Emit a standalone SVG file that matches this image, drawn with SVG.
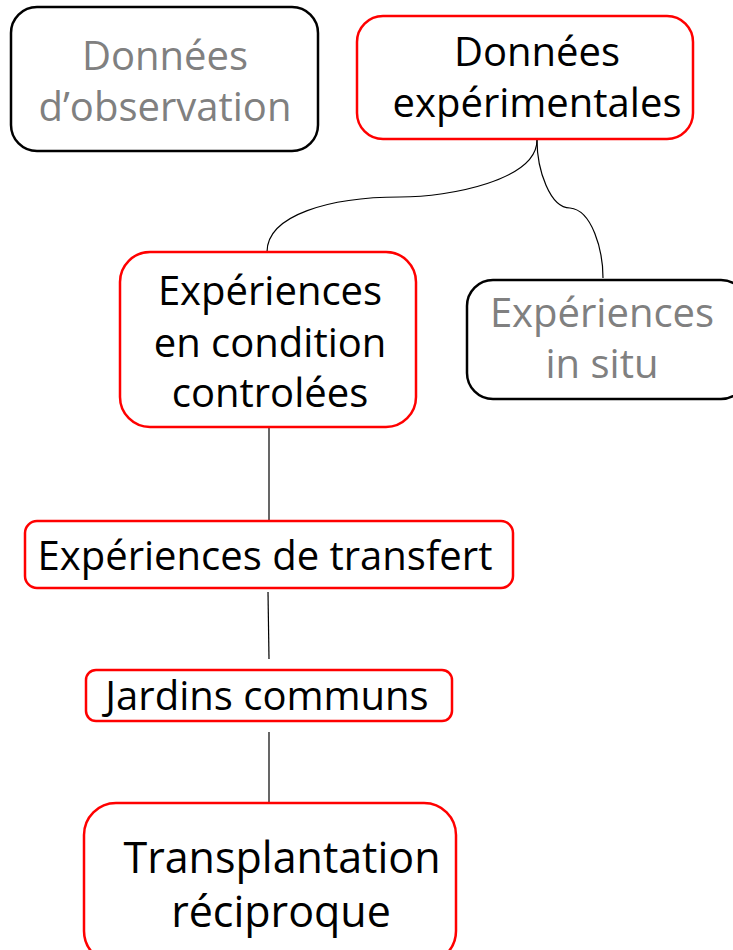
<svg xmlns="http://www.w3.org/2000/svg" width="733" height="950" viewBox="0 0 733 950">
<style>
.red{fill:#fff;stroke:#ff0000;stroke-width:2.5}
.blk{fill:#fff;stroke:#000;stroke-width:2.5}
.t{font-family:"Open Sans","Noto Sans",sans-serif;font-size:40px;text-anchor:middle;fill:#000}
.g{fill:#808080}
.big{font-size:43px}
.c{fill:none;stroke:#000;stroke-width:1.2}
</style>
<rect width="733" height="950" fill="#fff"/>
<g id="connectors">
<path class="c" d="M537,140 C537,180 450,197 400,197 C330,197 267,215 267,252"/>
<path class="c" d="M537,140 C537,170 550,208 570,208 C592,210 603,250 603,278"/>
<path class="c" d="M269,428 L269,521" stroke="#333"/>
<path class="c" d="M268,592 L269,659"/>
<path class="c" d="M269,732 L269,802"/>
</g>
<g id="n1">
<rect class="blk" x="11" y="7" width="307" height="144" rx="26"/>
<text class="t g" x="165" y="70">Données</text>
<text class="t g" x="165" y="121">d’observation</text>
</g>
<g id="n2">
<rect class="red" x="357" y="16" width="336" height="123" rx="26"/>
<text class="t" x="537" y="66">Données</text>
<text class="t" x="537" y="117">expérimentales</text>
</g>
<g id="n3">
<rect class="red" x="120" y="252" width="296" height="175" rx="30"/>
<text class="t" x="270" y="305">Expériences</text>
<text class="t" x="270" y="357">en condition</text>
<text class="t" x="270" y="407">controlées</text>
</g>
<g id="n4">
<rect class="blk" x="467" y="280" width="280" height="119" rx="26"/>
<text class="t g" x="602" y="327">Expériences</text>
<text class="t g" x="602" y="378">in situ</text>
</g>
<g id="n5">
<rect class="red" x="25" y="521" width="488" height="67" rx="12"/>
<text class="t" x="265" y="570">Expériences de transfert</text>
</g>
<g id="n6">
<rect class="red" x="86" y="670" width="366" height="51" rx="10"/>
<text class="t" x="267" y="710">Jardins communs</text>
</g>
<g id="n7">
<rect class="red" x="84" y="803" width="372" height="160" rx="32"/>
<text class="t big" x="282" y="873">Transplantation</text>
<text class="t big" x="281" y="927">réciproque</text>
</g>
</svg>
